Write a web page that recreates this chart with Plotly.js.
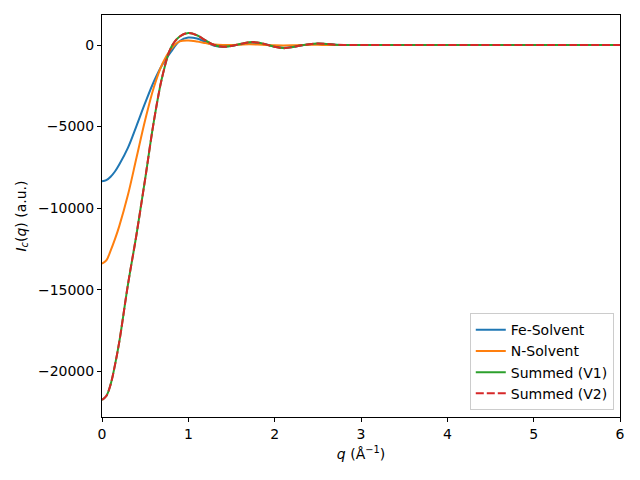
<!DOCTYPE html>
<html>
<head>
<meta charset="utf-8">
<script src="https://cdn.plot.ly/plotly-3.0.1.min.js"></script>
<style>html,body{margin:0;padding:0;background:#fff}#chart{width:640px;height:480px}</style>
</head>
<body>
<div id="chart"></div>
<script>
const q = [0, 0.05, 0.1, 0.15, 0.2, 0.3, 0.4, 0.5, 0.6, 0.7, 0.8, 0.9, 1.0, 1.1, 1.2, 1.3, 1.4, 1.5, 1.6, 1.7, 1.8, 1.9, 2.0, 2.1, 2.2, 2.3, 2.4, 2.5, 2.6, 2.7, 2.8, 2.9, 3.0, 4.0, 5.0, 6.0];
const feSolvent = [-8350, -8280, -8070, -7750, -7320, -6300, -4950, -3550, -2250, -1200, -400, 250, 460, 400, 180, -40, -110, -60, 40, 110, 110, 30, -90, -160, -120, -30, 40, 80, 60, 20, 0, 0, 0, 0, 0, 0];
const nSolvent = [-13400, -13200, -12600, -11900, -11100, -9200, -6900, -4600, -2600, -1150, -250, 220, 280, 220, 120, 30, 0, 0, 20, 40, 30, 0, -20, -30, -20, 0, 10, 10, 0, 0, 0, 0, 0, 0, 0, 0];
const summedV1 = [-21750, -21510, -20800, -19620, -18200, -14700, -11600, -8200, -4700, -1900, -150, 520, 740, 600, 280, 0, -110, -60, 60, 170, 160, 40, -110, -190, -140, -30, 50, 90, 60, 20, 0, 0, 0, 0, 0, 0];
const summedV2 = [-21750, -21510, -20800, -19620, -18200, -14700, -11600, -8200, -4700, -1900, -150, 520, 740, 600, 280, 0, -110, -60, 60, 170, 160, 40, -110, -190, -140, -30, 50, 90, 60, 20, 0, 0, 0, 0, 0, 0];
const names = ["Fe-Solvent", "N-Solvent", "Summed (V1)", "Summed (V2)"];
const yTicks = [0, -5000, -10000, -15000, -20000];
const yTickLabels = ["0", "−5000", "−10000", "−15000", "−20000"];
const xTicks = [0, 1, 2, 3, 4, 5, 6];

const font = {family: "DejaVu Sans", size: 14, color: "#000"};
const mk = (y, name, color, dash) => ({
  x: q, y: y, name: name, type: "scatter", mode: "lines",
  line: {color: color, width: 2, dash: dash, shape: "spline", smoothing: 1}
});
const data = [
  mk(feSolvent, names[0], "#1f77b4", "solid"),
  mk(nSolvent, names[1], "#ff7f0e", "solid"),
  mk(summedV1, names[2], "#2ca02c", "solid"),
  mk(summedV2, names[3], "#d62728", "8px,3px")
];
const layout = {
  width: 640, height: 480,
  margin: {l: 102, r: 20, t: 15, b: 63},
  paper_bgcolor: "#fff", plot_bgcolor: "#fff",
  font: font,
  showlegend: true,
  legend: {x: 0.988, y: 0.017, xanchor: "right", yanchor: "bottom",
    bgcolor: "rgba(255,255,255,0.8)", bordercolor: "#cccccc", borderwidth: 1,
    font: font, tracegroupgap: 0},
  xaxis: {range: [0, 6], tickvals: xTicks, ticks: "outside", ticklen: 4, tickcolor: "#000",
    showline: true, mirror: true, linecolor: "#000", linewidth: 1, showgrid: false, zeroline: false,
    tickfont: font, title: {text: "<i>q</i> (Å<sup>−1</sup>)", font: font, standoff: 8}},
  yaxis: {range: [-22800, 1840], tickvals: yTicks, ticktext: yTickLabels, ticks: "outside", ticklen: 4, tickcolor: "#000",
    showline: true, mirror: true, linecolor: "#000", linewidth: 1, showgrid: false, zeroline: false,
    tickfont: font, title: {text: "<i>I</i><sub><i>c</i></sub>(<i>q</i>) (a.u.)", font: font, standoff: 8}}
};
Plotly.newPlot("chart", data, layout, {displayModeBar: false, staticPlot: true});
</script>
</body>
</html>
